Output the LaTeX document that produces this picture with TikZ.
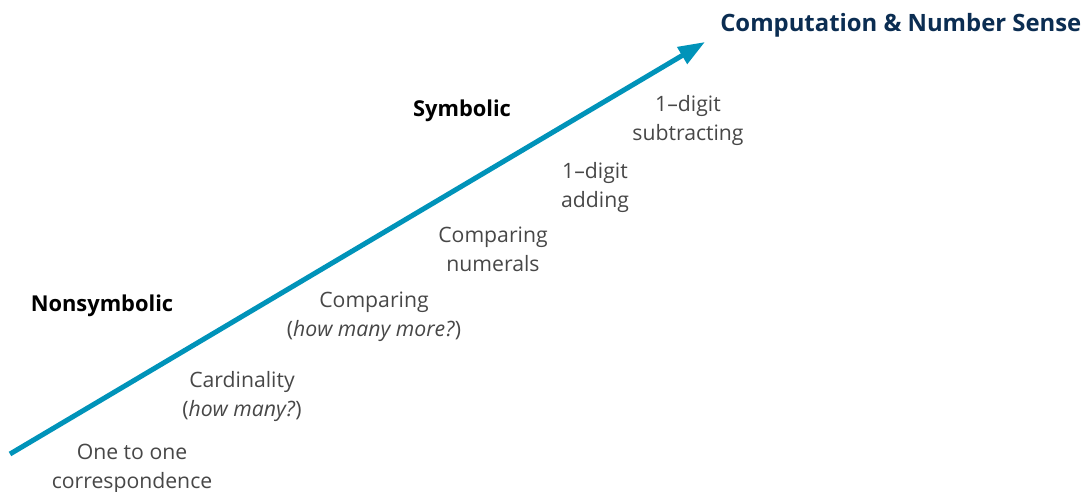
\documentclass[tikz,border=0pt]{standalone}
\usepackage{fontspec}
\setmainfont{Open Sans}
\usetikzlibrary{arrows.meta}
\definecolor{trend}{HTML}{0093B9}
\definecolor{navy}{HTML}{0B2D52}
\begin{document}
\begin{tikzpicture}
	[x=0.75pt,y=0.75pt,>={Triangle[length=20pt,width=14pt]},
	stage/.style={align=center,text=black!72,inner sep=0pt,font=\fontsize{15.9}{21.75}\selectfont},
	level/.style={inner sep=0pt,font=\fontsize{16.4}{18}\selectfont\bfseries},
	growth/.style={draw=trend,line width=3.75pt}]
	\useasboundingbox (0,0) rectangle (1084,492);
	% the rising line
	\coordinate (start) at (10,38);
	\coordinate (tip) at (705,450);
	\draw [growth,->] (start) -- (tip);
	\node at (720,467) [anchor=west,level,text=navy,font=\fontsize{17.9}{22}\selectfont\bfseries] (title) {Computation \& Number Sense};
	% the two levels
	\node at (102,186) [level] (nonsym) {Nonsymbolic};
	\node at (462,381) [level] (sym) {Symbolic};
	% the steps along the line
	\node at (132,23) [stage] (onetoone) {One to one\\correspondence};
	\node at (242,96) [stage] (cardinal) {Cardinality\\(\textit{how many?})};
	\node at (374,175) [stage] (compare) {Comparing\\(\textit{how many more?})};
	\node at (493,243) [stage] (numerals) {Comparing\\numerals};
	\node at (595,305) [stage] (adding) {1–digit\\adding};
	\node at (688,372) [stage] (subtract) {1–digit\\subtracting};
\end{tikzpicture}
\end{document}
